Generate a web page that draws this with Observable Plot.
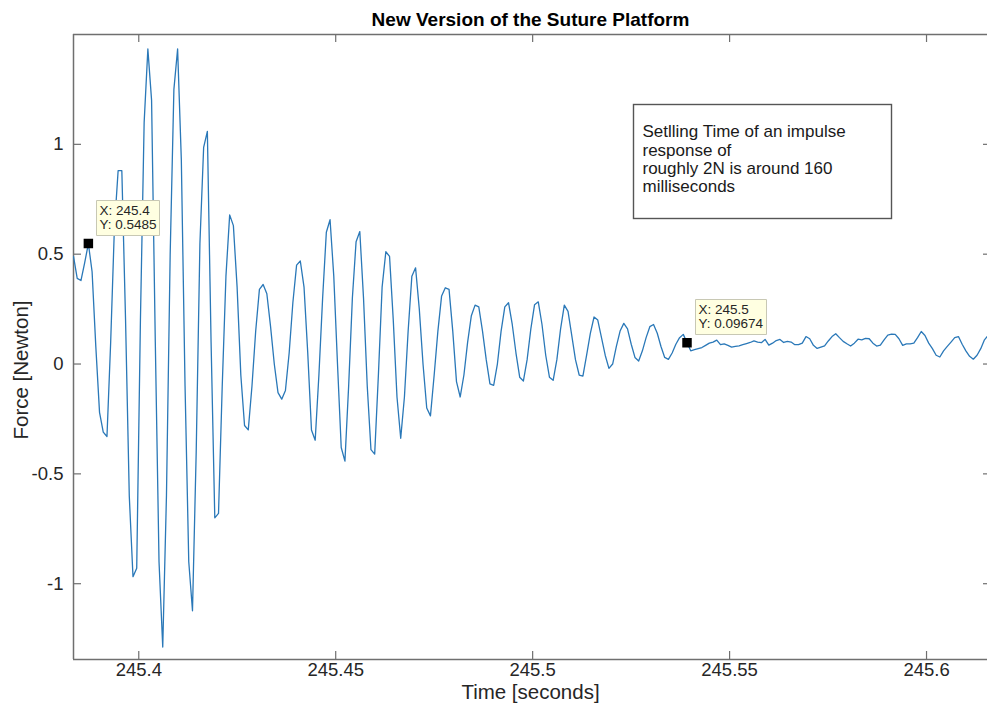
<!DOCTYPE html>
<html>
<head>
<meta charset="utf-8">
<script src="https://cdn.jsdelivr.net/npm/d3@7"></script>
<script src="https://cdn.jsdelivr.net/npm/@observablehq/plot@0.6"></script>
<style>
  html, body { margin: 0; padding: 0; background: #fff; overflow: hidden; }
  #chart svg { display: block; }
</style>
</head>
<body>
<div id="chart"></div>
<script>
// Force sensor record, uniformly sampled
const sampleStart = 245.38343;  // seconds
const samplePeriod = 0.000944;  // seconds
const force = [
  0.49, 0.39, 0.38, 0.46, 0.5485, 0.42, 0.08, -0.22, -0.31, -0.33,
  0.10, 0.62, 0.88, 0.88, 0.20, -0.60, -0.968, -0.93, 0.20, 1.10,
  1.434, 1.20, 0.10, -0.90, -1.288, -0.60, 0.50, 1.25, 1.434, 0.93,
  -0.10, -0.90, -1.123, -0.40, 0.55, 0.986, 1.059, 0.10, -0.70, -0.68,
  -0.10, 0.40, 0.679, 0.63, 0.35, -0.05, -0.28, -0.30, -0.10, 0.15,
  0.34, 0.362, 0.32, 0.17, 0.00, -0.13, -0.16, -0.12, 0.05, 0.28,
  0.45, 0.469, 0.35, 0.05, -0.30, -0.347, -0.05, 0.30, 0.60, 0.657,
  0.40, 0.00, -0.38, -0.442, -0.10, 0.30, 0.557, 0.603, 0.30, -0.10,
  -0.39, -0.41, -0.05, 0.35, 0.511, 0.49, 0.20, -0.15, -0.338, -0.15,
  0.15, 0.40, 0.438, 0.25, 0.00, -0.20, -0.236, -0.05, 0.15, 0.31,
  0.347, 0.34, 0.15, -0.08, -0.15, -0.05, 0.10, 0.22, 0.268, 0.26,
  0.15, 0.02, -0.09, -0.097, 0.00, 0.15, 0.26, 0.279, 0.18, 0.05,
  -0.06, -0.077, 0.02, 0.16, 0.27, 0.283, 0.18, 0.04, -0.06, -0.074,
  0.02, 0.16, 0.268, 0.24, 0.13, 0.02, -0.05, -0.055, 0.04, 0.14,
  0.214, 0.20, 0.12, 0.04, -0.02, 0.00, 0.08, 0.15, 0.185, 0.16,
  0.09, 0.03, 0.014, 0.06, 0.12, 0.17, 0.18, 0.14, 0.08, 0.03,
  0.021, 0.05, 0.09, 0.12, 0.135, 0.09674, 0.06, 0.065, 0.07, 0.075,
  0.085, 0.095, 0.10, 0.109, 0.088, 0.092, 0.085, 0.077, 0.08, 0.083,
  0.088, 0.093, 0.098, 0.105, 0.10, 0.097, 0.112, 0.086, 0.095, 0.107,
  0.112, 0.098, 0.103, 0.10, 0.088, 0.088, 0.095, 0.125, 0.115, 0.085,
  0.071, 0.077, 0.083, 0.105, 0.125, 0.138, 0.12, 0.103, 0.092, 0.082,
  0.095, 0.113, 0.11, 0.117, 0.115, 0.095, 0.082, 0.086, 0.11, 0.132,
  0.136, 0.135, 0.115, 0.085, 0.092, 0.092, 0.095, 0.12, 0.148, 0.13,
  0.095, 0.07, 0.04, 0.032, 0.06, 0.08, 0.10, 0.12, 0.125, 0.09,
  0.06, 0.035, 0.022, 0.04, 0.07, 0.11, 0.13, 0.12
];

// samples marked with data tips
const tipIndex = [4, 165];

// axis limits and ticks
const xLimits = [245.38343, 245.61548];
const yLimits = [-1.345, 1.5];
const xTicks = [245.4, 245.45, 245.5, 245.55, 245.6];
const xTickLabels = ["245.4", "245.45", "245.5", "245.55", "245.6"];
const yTicks = [-1, -0.5, 0, 0.5, 1];
const yTickLabels = ["-1", "-0.5", "0", "0.5", "1"];

const titleText = "New Version of the Suture Platform";
const xLabel = "Time [seconds]";
const yLabel = "Force [Newton]";
const noteText = "Setlling Time of an impulse\nresponse of\nroughly 2N is around 160\nmilliseconds";

const samples = force.map((f, i) => ({time: sampleStart + i * samplePeriod, force: f}));
const tips = tipIndex.map(i => samples[i]);
const fmt4 = d3.format(".4~g");

const W = 987, H = 704;
const mTop = 34, mBottom = 45, mLeft = 73, mRight = 0;
const fw = W - mLeft - mRight, fh = H - mTop - mBottom;
const axisColor = "#6f6f6f";
const textColor = "#262626";
const lineColor = "#2a78b8";
const tickLen = 8;

const chart = Plot.plot({
  width: W,
  height: H,
  marginTop: mTop,
  marginBottom: mBottom,
  marginLeft: mLeft,
  marginRight: mRight,
  style: {fontFamily: "'Liberation Sans', Arial, Helvetica, sans-serif", fontSize: "17px", color: textColor, background: "#fff"},
  x: {domain: xLimits},
  y: {domain: yLimits},
  marks: [
    // axes box (top, bottom, left; the right side lies just past the page edge)
    Plot.ruleY(yLimits, {stroke: axisColor, strokeWidth: 1.5}),
    Plot.ruleX([xLimits[0]], {stroke: axisColor, strokeWidth: 1.5}),
    // inward ticks
    Plot.ruleX(xTicks, {insetTop: fh - tickLen, stroke: axisColor, strokeWidth: 1.2}),
    Plot.ruleX(xTicks, {insetBottom: fh - tickLen, stroke: axisColor, strokeWidth: 1.2}),
    Plot.ruleY(yTicks, {insetRight: fw - tickLen, stroke: axisColor, strokeWidth: 1.2}),
    Plot.ruleY(yTicks, {insetLeft: fw - 4, stroke: axisColor, strokeWidth: 1.2}),
    Plot.axisX(xTicks, {tickSize: 0, tickPadding: 3, tickFormat: d => xTickLabels[xTicks.indexOf(d)], fontSize: 18.5, label: null}),
    Plot.axisY(yTicks, {tickSize: 0, tickPadding: 10, tickFormat: d => yTickLabels[yTicks.indexOf(d)], fontSize: 18.5, label: null}),
    // signal
    Plot.line(samples, {x: "time", y: "force", stroke: lineColor, strokeWidth: 1.3, clip: true}),
    // annotation box
    Plot.frame({insetLeft: 560, insetRight: 96, insetTop: 70, insetBottom: 441, fill: "#fff", stroke: "#555", strokeWidth: 1.4}),
    Plot.text([noteText], {frameAnchor: "top-left", dx: 569, dy: 90, textAnchor: "start", lineAnchor: "top", lineHeight: 1.07, fontSize: 17, fill: "#1a1a1a"}),
    // data tips
    Plot.dot(tips, {x: "time", y: "force", symbol: "square", r: 4.5, fill: "#000", stroke: "#000"}),
    Plot.tip(tips, {
      x: "time", y: "force",
      title: d => `X: ${fmt4(d.time)}\nY: ${fmt4(d.force)}`,
      anchor: "bottom-left", pointerSize: 0, dx: 8, dy: -8,
      fill: "#ffffe1", stroke: "#c8c8b4", strokeWidth: 1,
      fontSize: 13.5, lineHeight: 1.0, textPadding: 3, pathFilter: "none"
    }),
    // title and axis labels
    Plot.text([titleText], {frameAnchor: "top", lineAnchor: "middle", dy: -15, fontWeight: "bold", fontSize: 19, fill: "#000"}),
    Plot.text([xLabel], {frameAnchor: "bottom", lineAnchor: "middle", dy: 33, fontSize: 20.5, fill: textColor}),
    Plot.text([yLabel], {frameAnchor: "left", textAnchor: "middle", lineAnchor: "middle", dx: -52, dy: 23, rotate: -90, fontSize: 20.5, fill: textColor})
  ]
});

document.getElementById("chart").appendChild(chart);
</script>
</body>
</html>
